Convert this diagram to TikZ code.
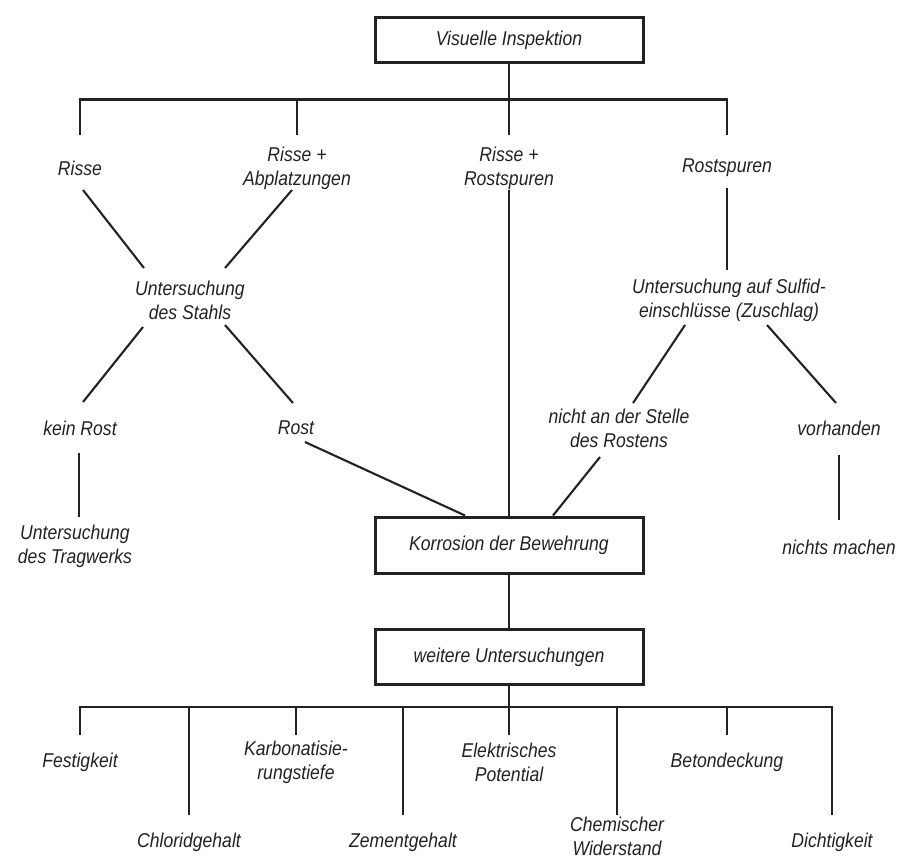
\documentclass[tikz,border=0pt]{standalone}
\usepackage{fontspec}
\setmainfont{Liberation Sans}[FakeStretch=0.88]
\usetikzlibrary{calc}
\definecolor{ink}{HTML}{222222}
\tikzset{
  lbl/.style={align=center, inner sep=0pt, text=ink,
    font=\fontsize{20}{24}\selectfont\itshape},
  boxed/.style={lbl, draw=ink, line width=3pt, minimum width=268pt},
  conn/.style={draw=ink, line width=2.1pt}
}
\begin{document}
\begin{tikzpicture}[x=1pt,y=-1pt]
\useasboundingbox (0,0) rectangle (901,859);

% boxes
\node[boxed, minimum height=44pt] (vi) at (509,40) {Visuelle Inspektion};
\node[boxed, minimum height=56pt] (korr) at (509,545) {Korrosion der Bewehrung};
\node[boxed, minimum height=55pt] (weitere) at (509,657) {weitere Untersuchungen};

% first level
\node[lbl] (risse) at (80,168) {Risse};
\node[lbl] (rabp) at (297,168) {Risse +\\Abplatzungen};
\node[lbl] (rrost) at (509,168) {Risse +\\Rostspuren};
\node[lbl] (rspur) at (727,168) {Rostspuren};

% second level
\node[lbl] (stahl) at (190,300) {Untersuchung\\des Stahls};
\node[lbl] (sulfid) at (729,300) {Untersuchung auf Sulfid-\\einschlüsse (Zuschlag)};

% third level
\node[lbl] (keinrost) at (80,428) {kein Rost};
\node[lbl] (rost) at (296,428) {Rost};
\node[lbl] (nicht) at (619,428) {nicht an der Stelle\\des Rostens};
\node[lbl] (vorh) at (839,428) {vorhanden};

% fourth level
\node[lbl] (tragwerk) at (75,546) {Untersuchung\\des Tragwerks};
\node[lbl] (nichts) at (839,547) {nichts machen};

% further investigations
\node[lbl] (fest) at (80,762) {Festigkeit};
\node[lbl] (chlor) at (189,842) {Chloridgehalt};
\node[lbl] (karb) at (296,762) {Karbonatisie-\\rungstiefe};
\node[lbl] (zement) at (403,842) {Zementgehalt};
\node[lbl] (elek) at (509,762) {Elektrisches\\Potential};
\node[lbl] (chem) at (617,836) {Chemischer\\Widerstand};
\node[lbl] (beton) at (727,762) {Betondeckung};
\node[lbl] (dicht) at (832,842) {Dichtigkeit};

% top branching
\coordinate (bar) at ($(vi.south)+(0,36)$);
\draw[conn] (vi.south) -- (bar);
\draw[conn] ($(risse)+(0,-33)$) |- (bar) -| ($(rspur)+(0,-33)$);
\draw[conn] ($(rabp)+(0,-33)$) -- ($(rabp)+(0,-70)$);
\draw[conn] ($(rrost)+(0,-33)$) -- (bar);

% left part
\draw[conn] ($(risse)+(3,22)$) -- ($(stahl)+(-46,-32)$);
\draw[conn] ($(rabp)+(-5,22)$) -- ($(stahl)+(35,-32)$);
\draw[conn] ($(stahl)+(-47,27)$) -- ($(keinrost)+(3,-26)$);
\draw[conn] ($(stahl)+(35,25)$) -- ($(rost)+(-3,-25)$);
\draw[conn] ($(keinrost)+(-1,25)$) -- ($(tragwerk)+(4,-29)$);
\draw[conn] ($(rost)+(9,14)$) -- ($(korr.north)+(-44,0)$);

% middle
\draw[conn] ($(rrost)+(0,22)$) -- (korr.north);

% right part
\draw[conn] ($(rspur)+(0,20)$) -- ($(sulfid)+(-2,-30)$);
\draw[conn] ($(sulfid)+(-44,25)$) -- ($(nicht)+(14,-25)$);
\draw[conn] ($(sulfid)+(38,25)$) -- ($(vorh)+(-3,-25)$);
\draw[conn] ($(nicht)+(-19,29)$) -- ($(korr.north)+(44,0)$);
\draw[conn] ($(vorh)+(0,27)$) -- ($(nichts)+(0,-27)$);

% lower part
\draw[conn] (korr.south) -- (weitere.north);
\coordinate (bbar) at ($(weitere.south)+(0,21)$);
\draw[conn] (weitere.south) -- (bbar);
\draw[conn] ($(fest)+(0,-27)$) |- (bbar) -| ($(dicht)+(0,-27)$);
\draw[conn] ($(chlor)+(0,-27)$) -- (chlor |- bbar);
\draw[conn] ($(karb)+(0,-27)$) -- (karb |- bbar);
\draw[conn] ($(zement)+(0,-27)$) -- (zement |- bbar);
\draw[conn] ($(elek)+(0,-27)$) -- (elek |- bbar);
\draw[conn] ($(chem)+(0,-21)$) -- (chem |- bbar);
\draw[conn] ($(beton)+(0,-27)$) -- (beton |- bbar);
\end{tikzpicture}
\end{document}
